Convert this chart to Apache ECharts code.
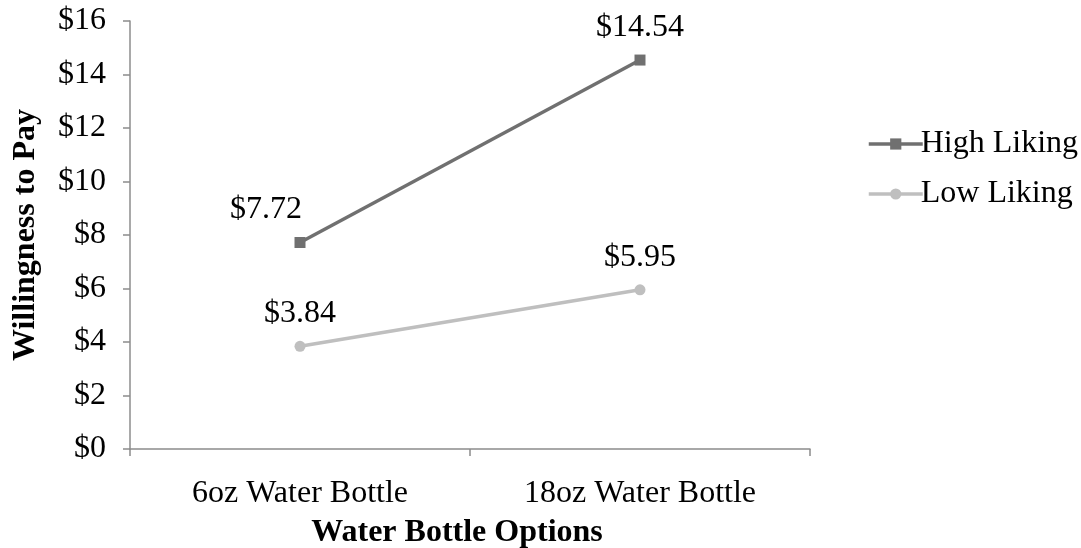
<!DOCTYPE html>
<html><head><meta charset="utf-8">
<script src="https://cdn.jsdelivr.net/npm/echarts@6/dist/echarts.min.js"></script>
<style>html,body{margin:0;padding:0;background:#fff}#c{width:1081px;height:548px}</style>
</head><body><div id="c"></div>
<script>
var categories = ['6oz Water Bottle', '18oz Water Bottle'];
var highLiking = [7.72, 14.54];
var lowLiking = [3.84, 5.95];
var yTicks = [0, 2, 4, 6, 8, 10, 12, 14, 16];

var font = 'Liberation Serif';
var fs = 32;
var chart = echarts.init(document.getElementById('c'));
chart.setOption({
  backgroundColor: '#fff',
  animation: false,
  grid: {left: 130, right: 271, top: 21, bottom: 99, containLabel: false, outerBoundsMode: 'none'},
  legend: {
    orient: 'vertical', left: 862, top: 123, itemWidth: 54, itemHeight: 14, itemGap: 18,
    textStyle: {fontFamily: font, fontSize: fs, color: '#000', padding: [0,0,0,-7]},
    data: [
      {name: 'High Liking', lineStyle: {width: 3.5}, itemStyle: {color: '#707070'}},
      {name: 'Low Liking', lineStyle: {width: 3.5}, itemStyle: {color: '#bfbfbf'}}
    ]
  },
  xAxis: {
    type: 'category', data: categories, boundaryGap: true,
    name: 'Water Bottle Options', nameLocation: 'middle', nameGap: 68,
    nameTextStyle: {fontFamily: font, fontSize: fs, fontWeight: 'bold', color: '#000', padding: [0, 26, 0, 0]},
    axisLine: {lineStyle: {color: '#8c8c8c', width: 1.5}},
    axisTick: {show: true, length: 7, inside: false, lineStyle: {color: '#8c8c8c', width: 1.5}},
    axisLabel: {fontFamily: font, fontSize: fs, color: '#000', margin: 29}
  },
  yAxis: {
    type: 'value', min: 0, max: 16, interval: 2,
    name: 'Willingness to Pay', nameLocation: 'middle', nameGap: 88,
    nameTextStyle: {fontFamily: font, fontSize: fs, fontWeight: 'bold', color: '#000'},
    axisLine: {show: true, lineStyle: {color: '#8c8c8c', width: 1.5}},
    axisTick: {show: true, length: 7, lineStyle: {color: '#8c8c8c', width: 1.5}},
    splitLine: {show: false},
    axisLabel: {fontFamily: font, fontSize: fs, color: '#000', margin: 24,
      formatter: function (v) { return yTicks.indexOf(v) >= 0 ? '$' + v : ''; }}
  },
  series: [
    {
      name: 'High Liking', type: 'line', data: highLiking.map(function (v, i) {
        return {value: v, label: {offset: i === 0 ? [-34, 0] : [0, 0]}};
      }),
      symbol: 'rect', symbolSize: 11,
      lineStyle: {color: '#707070', width: 3.5}, itemStyle: {color: '#707070'},
      label: {show: true, position: 'top', distance: 11, fontFamily: font, fontSize: fs, color: '#000',
        formatter: function (p) { return '$' + p.value.toFixed(2); }}
    },
    {
      name: 'Low Liking', type: 'line', data: lowLiking,
      symbol: 'circle', symbolSize: 11,
      lineStyle: {color: '#bfbfbf', width: 3.5}, itemStyle: {color: '#bfbfbf'},
      label: {show: true, position: 'top', distance: 11, fontFamily: font, fontSize: fs, color: '#000',
        formatter: function (p) { return '$' + p.value.toFixed(2); }}
    }
  ]
});
</script></body></html>
